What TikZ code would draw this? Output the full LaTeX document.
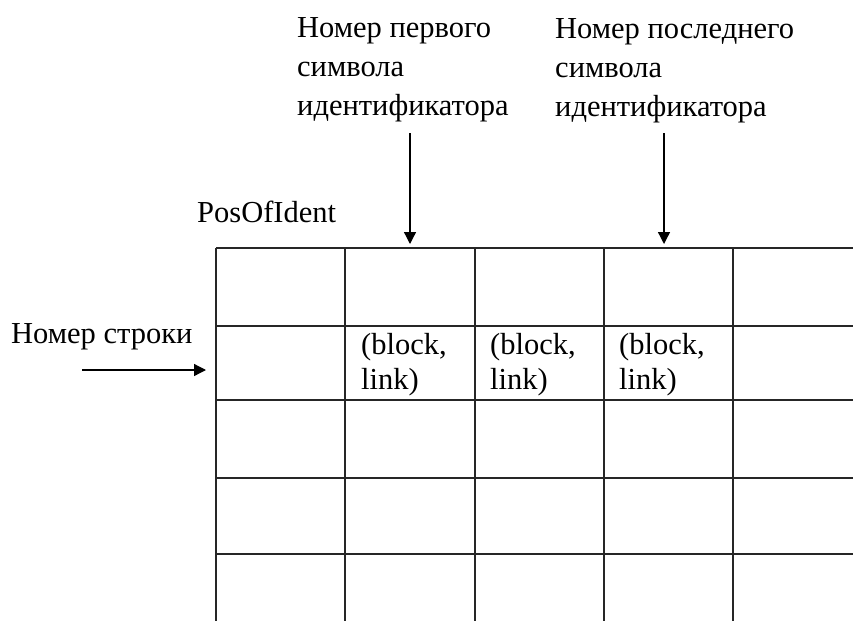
\documentclass[tikz,border=0pt]{standalone}
\usepackage{fontspec}
\setmainfont{Liberation Serif}
\usetikzlibrary{arrows.meta}
\newcommand{\lines}[1]{\begin{tabular}[t]{@{}l@{}}#1\end{tabular}}
\begin{document}
\begin{tikzpicture}[x=1pt,y=-1pt,
  label/.style={inner sep=0pt,anchor=base west,font=\fontsize{30.5}{39}\selectfont},
  cell/.style={inner sep=0pt,anchor=base west,font=\fontsize{30.5}{35}\selectfont},
  grid/.style={line width=1.6pt,black!85},
  pointer/.style={line width=1.3pt,-{Triangle[length=12pt,width=12pt]}}]
\useasboundingbox (0,0) rectangle (853,621);
% table grid, open on the right and at the bottom
\foreach \x in {216,345,475,604,733} \draw[grid] (\x,248) -- (\x,621);
\foreach \y in {248,326,400,478,554} \draw[grid] (216,\y) -- (853,\y);
% labels
\node[label] (first) at (297,37) {\lines{Номер первого\\символа\\идентификатора}};
\node[label] (last) at (555,38) {\lines{Номер последнего\\символа\\идентификатора}};
\node[label] (name) at (197,222) {PosOfIdent};
\node[label] (row) at (11,343) {Номер строки};
% cell contents
\node[cell] (c1) at (361,354) {\lines{(block,\\link)}};
\node[cell] (c2) at (490,354) {\lines{(block,\\link)}};
\node[cell] (c3) at (619,354) {\lines{(block,\\link)}};
% arrows
\coordinate (firstTop) at (410,133);
\coordinate (firstEnd) at (410,244);
\coordinate (lastTop) at (664,133);
\coordinate (lastEnd) at (664,244);
\coordinate (rowStart) at (82,370);
\coordinate (rowEnd) at (206,370);
\draw[pointer] (firstTop) -- (firstEnd);
\draw[pointer] (lastTop) -- (lastEnd);
\draw[pointer] (rowStart) -- (rowEnd);
\end{tikzpicture}
\end{document}
